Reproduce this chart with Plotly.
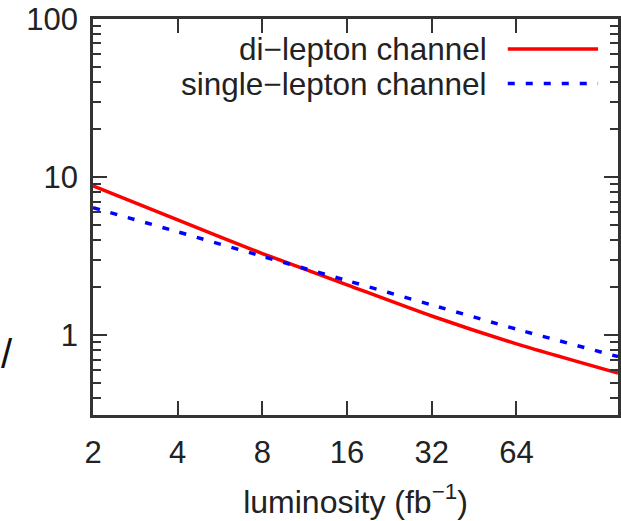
import plotly.graph_objects as go
import math

# Data
luminosity = [2, 4, 8, 16, 32, 64, 147]
dilepton = [8.8, 5.35, 3.28, 2.08, 1.32, 0.88, 0.575]
singlelepton = [6.4, 4.5, 3.15, 2.21, 1.55, 1.09, 0.73]

x_tickvals = [2, 4, 8, 16, 32, 64]
x_ticktext = ["2", "4", "8", "16", "32", "64"]
y_tickvals = [1, 10, 100]
y_ticktext = ["1", "10", "100"]
y_minorvals = [0.4, 0.5, 0.6, 0.7, 0.8, 0.9,
               2, 3, 4, 5, 6, 7, 8, 9,
               20, 30, 40, 50, 60, 70, 80, 90]

series_names = ["di\u2212lepton channel", "single\u2212lepton channel"]

FONT = "Liberation Sans, Arial, Helvetica, sans-serif"
AX = "#333333"

fig = go.Figure()
fig.add_trace(go.Scatter(x=luminosity, y=dilepton, mode="lines", name=series_names[0],
                         line=dict(color="#ff0000", width=3.5, shape="spline", smoothing=0.6),
                         showlegend=False))
fig.add_trace(go.Scatter(x=luminosity, y=singlelepton, mode="lines", name=series_names[1],
                         line=dict(color="#0000ff", width=3.5, dash="7px,11px", shape="spline",
                                   smoothing=0.6),
                         showlegend=False))

# Legend drawn gnuplot-style: text right-aligned, sample line to its right
legend_rows = [(0.924, series_names[0], "#ff0000", "solid"),
               (0.837, series_names[1], "#0000ff", "7px,11px")]
for yp, txt, col, dash in legend_rows:
    fig.add_annotation(xref="paper", yref="paper", x=0.752, y=yp, text=txt, showarrow=False,
                       xanchor="right", yanchor="middle", borderpad=0,
                       font=dict(family=FONT, size=31.5, color="#222222"))
    fig.add_shape(type="line", xref="paper", yref="paper", x0=0.79, x1=0.962, y0=yp, y1=yp,
                  line=dict(color=col, width=3.5, dash=dash))

# partially visible y-axis title fragment at the left edge
fig.add_annotation(xref="paper", yref="paper", x=-0.163, y=0.155, text="/", showarrow=False,
                   xanchor="center", yanchor="middle", font=dict(family=FONT, size=40, color="#111111"))

fig.update_xaxes(type="log", range=[math.log10(2), math.log10(147)], automargin=False,
                 tickvals=x_tickvals, ticktext=x_ticktext,
                 ticks="inside", ticklen=14, tickwidth=2, tickcolor=AX,
                 showline=True, linecolor=AX, linewidth=2.5, mirror="allticks",
                 showgrid=False, zeroline=False,
                 tickfont=dict(family=FONT, size=31, color="#222222"),
                 ticklabelstandoff=8,
                 title=dict(text="luminosity (fb<sup>\u22121</sup>)", standoff=22,
                            font=dict(family=FONT, size=32, color="#222222")))
fig.update_yaxes(type="log", range=[-0.506, 2], automargin=False,
                 tickvals=y_tickvals, ticktext=y_ticktext,
                 ticks="inside", ticklen=14, tickwidth=2, tickcolor=AX,
                 minor=dict(tickvals=y_minorvals, ticks="inside", ticklen=8, tickwidth=1.5,
                            tickcolor=AX, showgrid=False),
                 showline=True, linecolor=AX, linewidth=2.5, mirror="allticks",
                 showgrid=False, zeroline=False,
                 tickfont=dict(family=FONT, size=31, color="#222222"),
                 ticklabelstandoff=6)

fig.update_layout(width=621, height=521, margin=dict(l=93, r=3, t=19, b=106),
                  plot_bgcolor="white", paper_bgcolor="white", showlegend=False)

fig.write_html("out.html", config={"displayModeBar": False},
               post_script="document.body.style.margin='0';document.body.style.overflow='hidden';")
